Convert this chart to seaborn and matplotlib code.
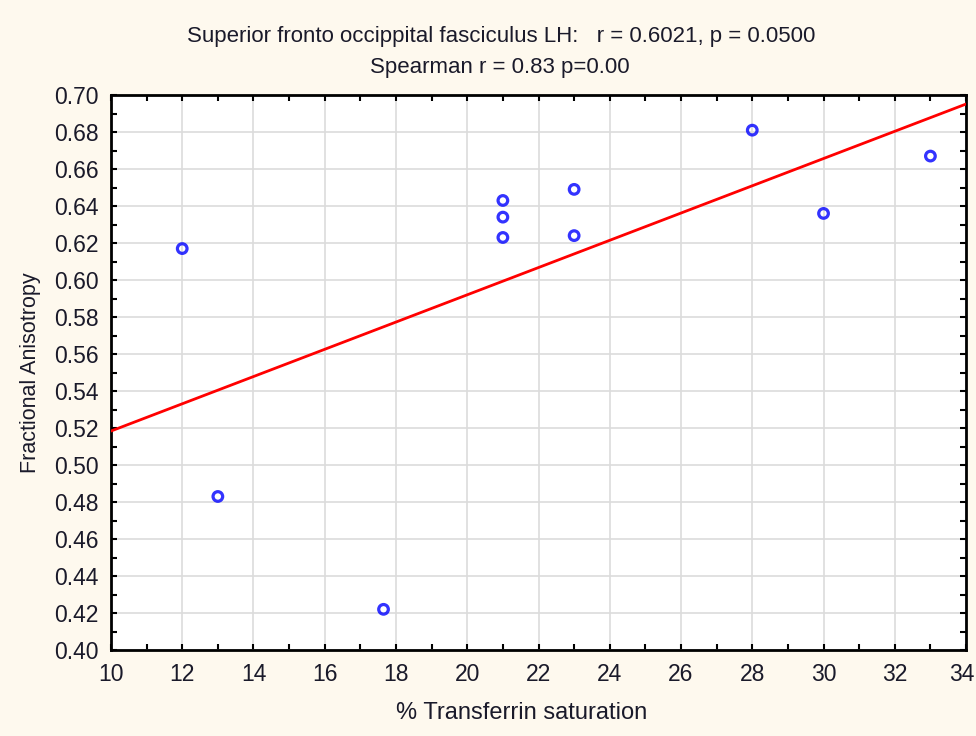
import matplotlib
matplotlib.use("Agg")
import matplotlib.pyplot as plt
from matplotlib.ticker import MultipleLocator, FormatStrFormatter, FuncFormatter
import seaborn as sns
import pandas as pd

# Transferrin saturation (%) vs fractional anisotropy, one point per subject
transferrin_sat = [12, 13, 17.65, 21, 21, 21, 23, 23, 28, 30, 33]
frac_anisotropy = [0.617, 0.483, 0.422, 0.643, 0.634, 0.623, 0.649, 0.624, 0.681, 0.636, 0.667]

title_line1 = "Superior fronto occippital fasciculus LH:   r = 0.6021, p = 0.0500"
title_line2 = "Spearman r = 0.83 p=0.00"
x_label = "% Transferrin saturation"
y_label = "Fractional Anisotropy"

x_min, x_max = 10, 34
y_min, y_max = 0.40, 0.70

df = pd.DataFrame({"sat": transferrin_sat, "fa": frac_anisotropy})

sns.set_theme(style="white")
plt.rcParams["font.family"] = ["Liberation Sans", "DejaVu Sans"]

bg = "#fef9ee"
txt = "#1a1a2a"
fig = plt.figure(figsize=(9.76, 7.36), dpi=100, facecolor=bg)
ax = fig.add_axes([0.1137, 0.1168, 0.8761, 0.7541])
ax.set_facecolor("white")

ax.set_xlim(x_min, x_max)
ax.set_ylim(y_min, y_max)

sns.regplot(
    data=df, x="sat", y="fa", ax=ax, ci=None, truncate=False,
    scatter_kws=dict(s=48, facecolors="none", edgecolors="#0000ff", linewidths=2.3, zorder=4),
    line_kws=dict(color="#ff0000", lw=2, zorder=3),
)

ax.set_xlim(x_min, x_max)
ax.set_ylim(y_min, y_max)
ax.xaxis.set_major_locator(MultipleLocator(2))
ax.xaxis.set_minor_locator(MultipleLocator(1))
ax.yaxis.set_major_locator(MultipleLocator(0.02))
ax.yaxis.set_minor_locator(MultipleLocator(0.01))
ax.yaxis.set_major_formatter(FormatStrFormatter("%.2f"))
# the label at the right end is drawn separately so it stays inside the figure
ax.xaxis.set_major_formatter(FuncFormatter(lambda v, _: "" if abs(v - x_max) < 1e-9 else f"{v:g}"))

ax.grid(True, which="major", color="#dcdcdc", lw=1.2, zorder=0)
ax.set_axisbelow(True)
for sp in ax.spines.values():
    sp.set_color("black")
    sp.set_linewidth(2)

ax.tick_params(which="both", direction="in", top=True, right=True, bottom=True, left=True,
               color="black", width=1.5, length=4, labelsize=16.5, labelcolor=txt,
               pad=9)

ax.annotate(f"{x_max:g}", xy=(x_max, 0), xycoords=("data", "axes fraction"),
            xytext=(-3, -9), textcoords="offset points", ha="center", va="top",
            fontsize=16.5, color=txt, annotation_clip=False)

ax.set_xlabel(x_label, fontsize=17, color=txt)
ax.xaxis.set_label_coords(0.48, -0.094)
ax.set_ylabel(y_label, fontsize=15.5, color=txt, labelpad=9)

fig.text(0.513, 0.951, title_line1, ha="center", va="center", fontsize=16, color=txt)
fig.text(0.512, 0.908, title_line2, ha="center", va="center", fontsize=16, color=txt)

fig.savefig("out.png", dpi=100, facecolor=bg)
